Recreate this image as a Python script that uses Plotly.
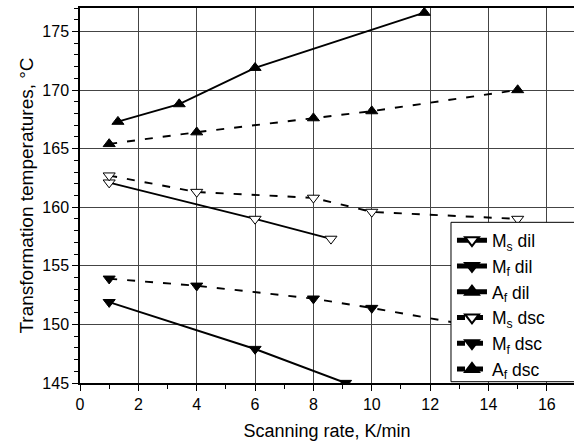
import plotly.graph_objects as go

# Scanning rates (K/min) and transformation temperatures (°C)
ms_dil_rate = [1.0, 6.0, 8.6]
ms_dil_temp = [162.1, 159.0, 157.3]

mf_dil_rate = [1.0, 6.0, 9.1]
mf_dil_temp = [151.9, 147.9, 145.0]

af_dil_rate = [1.3, 3.4, 6.0, 11.8]
af_dil_temp = [167.3, 168.8, 171.9, 176.6]

ms_dsc_rate = [1.0, 4.0, 8.0, 10.0, 15.0]
ms_dsc_temp = [162.7, 161.3, 160.8, 159.6, 159.0]

mf_dsc_rate = [1.0, 4.0, 8.0, 10.0, 15.0]
mf_dsc_temp = [153.9, 153.3, 152.2, 151.4, 149.2]

af_dsc_rate = [1.0, 4.0, 8.0, 10.0, 15.0]
af_dsc_temp = [165.4, 166.4, 167.6, 168.2, 170.0]

x_ticks = [0, 2, 4, 6, 8, 10, 12, 14, 16]
y_ticks = [145, 150, 155, 160, 165, 170, 175]

FONT = "Liberation Sans, Arial, sans-serif"
DASH = "8px,10px"

series = [
    ("M<sub>s</sub> dil", ms_dil_rate, ms_dil_temp, "triangle-down-open", "solid"),
    ("M<sub>f</sub> dil", mf_dil_rate, mf_dil_temp, "triangle-down", "solid"),
    ("A<sub>f</sub> dil", af_dil_rate, af_dil_temp, "triangle-up", "solid"),
    ("M<sub>s</sub> dsc", ms_dsc_rate, ms_dsc_temp, "triangle-down-open", DASH),
    ("M<sub>f</sub> dsc", mf_dsc_rate, mf_dsc_temp, "triangle-down", DASH),
    ("A<sub>f</sub> dsc", af_dsc_rate, af_dsc_temp, "triangle-up", DASH),
]

fig = go.Figure()
for name, xs, ys, sym, dash in series:
    is_open = sym.endswith("-open")
    fig.add_trace(go.Scatter(
        x=xs, y=ys, name=name, mode="lines+markers",
        line=dict(color="black", width=1.9, dash=dash),
        marker=dict(
            symbol=sym.replace("-open", ""), size=10.5,
            color="white" if is_open else "black",
            line=dict(color="black", width=1),
        ),
    ))

axis_common = dict(
    showline=True, linecolor="black", linewidth=1.5,
    ticks="outside", ticklen=6, tickwidth=1, tickcolor="black",
    showgrid=True, gridcolor="#444444", gridwidth=1,
    zeroline=False,
    tickfont=dict(family=FONT, size=16, color="black"),
)

# Legend frame: a white box that runs off the right edge of the figure
legend_left, legend_top, legend_bottom = 0.751, 0.4285, 0.0035

fig.update_layout(
    width=574, height=441,
    margin=dict(l=80, r=0, t=8, b=58, autoexpand=False),
    paper_bgcolor="white", plot_bgcolor="white",
    font=dict(family=FONT, color="black"),
    xaxis=dict(
        range=[0, 16.93], tickvals=x_ticks, mirror=True,
        minor=dict(dtick=1, tick0=0, ticks="outside", ticklen=4,
                   tickcolor="black", showgrid=False),
        title=dict(text="Scanning rate, K/min",
                   font=dict(family=FONT, size=18), standoff=12),
        **axis_common,
    ),
    yaxis=dict(
        range=[145, 177], tickvals=y_ticks,
        minor=dict(dtick=1, tick0=145, ticks="outside", ticklen=4,
                   tickcolor="black", showgrid=False),
        title=dict(text="Transformation temperatures, °C",
                   font=dict(family=FONT, size=19), standoff=4),
        **axis_common,
    ),
    legend=dict(
        x=legend_left + 0.002, y=legend_top, xanchor="left", yanchor="top",
        bgcolor="rgba(0,0,0,0)", borderwidth=0,
        font=dict(family=FONT, size=17.5, color="black"),
        tracegroupgap=0, itemsizing="constant",
    ),
    shapes=[dict(
        type="rect", xref="paper", yref="paper", layer="above",
        x0=legend_left, x1=1.05, y0=legend_bottom, y1=legend_top,
        fillcolor="white", line=dict(color="black", width=1),
    )],
    showlegend=True,
)

fig.write_html("out.html")
